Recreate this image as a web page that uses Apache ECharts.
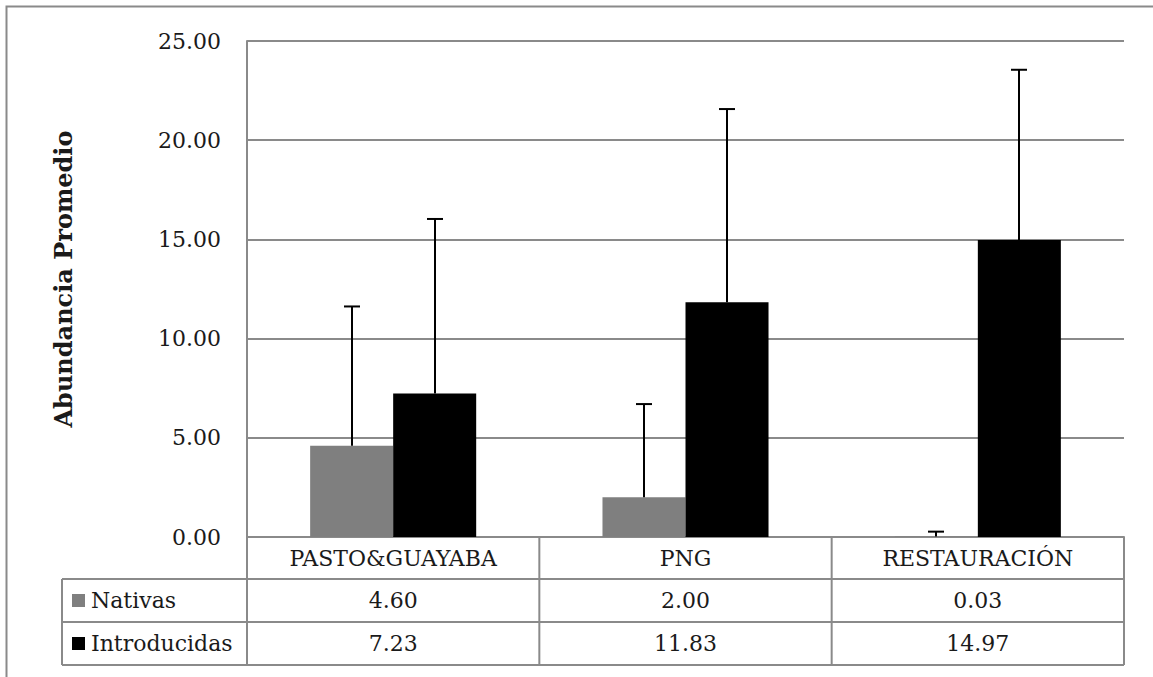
<!DOCTYPE html>
<html>
<head>
<meta charset="utf-8">
<script src="https://cdn.jsdelivr.net/npm/echarts@6/dist/echarts.min.js"></script>
<style>
html,body{margin:0;padding:0;background:#fff;}
#chart{width:1153px;height:677px;}
</style>
</head>
<body>
<div id="chart"></div>
<script>
// ---- data ----
const categories = ['PASTO&GUAYABA', 'PNG', 'RESTAURACIÓN'];
const seriesNames = ['Nativas', 'Introducidas'];
const nativas = [4.60, 2.00, 0.03];
const introducidas = [7.23, 11.83, 14.97];
const nativasErr = [7.02, 4.70, 0.24];
const introducidasErr = [8.80, 9.74, 8.58];
const yMin = 0, yMax = 25, yInterval = 5;
const yTitle = 'Abundancia Promedio';

// ---- style ----
const FONT = 'DejaVu Serif';
const GRAY = '#8a8a8a';
const TEXT = '#1a1a1a';
const COLORS = ['#7f7f7f', '#000000'];
const BAR_FRAC = 0.284;

const chart = echarts.init(document.getElementById('chart'), null, {renderer: 'svg'});

function errorSeries(vals, errs, sign) {
  return {
    type: 'custom',
    xAxisIndex: 0, yAxisIndex: 0,
    z: 10,
    encode: {x: 0, y: [1, 2]},
    data: vals.map((v, i) => [i, v, v + errs[i]]),
    renderItem: function (params, api) {
      const base = api.coord([api.value(0), api.value(1)]);
      const top = api.coord([api.value(0), api.value(2)]);
      const band = api.size([1, 0])[0];
      const x = Math.round(base[0] + sign * band * BAR_FRAC / 2);
      return {
        type: 'group',
        children: [
          {type: 'line', shape: {x1: x, y1: base[1], x2: x, y2: top[1]}, style: {stroke: '#000', lineWidth: 2}},
          {type: 'line', shape: {x1: x - 8, y1: top[1], x2: x + 8, y2: top[1]}, style: {stroke: '#000', lineWidth: 2}}
        ]
      };
    }
  };
}

chart.setOption({
  animation: false,
  grid: {left: 247, right: 29, top: 41, bottom: 140, containLabel: false, outerBoundsMode: 'none'},
  xAxis: {type: 'category', data: categories, axisLine: {lineStyle: {color: GRAY, width: 2}},
    axisTick: {show: false},
    axisLabel: {margin: 21, fontFamily: FONT, fontSize: 22, color: TEXT, interval: 0, verticalAlign: 'middle'}},
  yAxis: {
    type: 'value', min: yMin, max: yMax, interval: yInterval,
    axisLine: {show: true, lineStyle: {color: GRAY, width: 2}},
    axisTick: {show: false},
    splitLine: {lineStyle: {color: GRAY, width: 2}},
    axisLabel: {formatter: v => v.toFixed(2), fontFamily: FONT, fontSize: 22, color: TEXT, margin: 26}
  },
  series: [
    {name: seriesNames[0], type: 'bar', data: nativas, barWidth: (BAR_FRAC * 100) + '%', barGap: '0%',
     itemStyle: {color: COLORS[0]}},
    {name: seriesNames[1], type: 'bar', data: introducidas, barWidth: (BAR_FRAC * 100) + '%', barGap: '0%',
     itemStyle: {color: COLORS[1]}},
    errorSeries(nativas, nativasErr, -1),
    errorSeries(introducidas, introducidasErr, 1)
  ]
});

// ---- data table, positioned from the axes ----
const y0 = chart.convertToPixel({yAxisIndex: 0}, 0);
const yTop = chart.convertToPixel({yAxisIndex: 0}, yMax);
const centers = categories.map((c, i) => chart.convertToPixel({xAxisIndex: 0}, i));
const band = centers[1] - centers[0];
const bounds = centers.map(c => c - band / 2);
bounds.push(bounds[bounds.length - 1] + band);
const rowY = [y0, y0 + 42, y0 + 85, y0 + 128];
const tableLeft = 62;
const g = [];
const ln = (x1, y1, x2, y2) => g.push({type: 'line', shape: {x1, y1, x2, y2}, style: {stroke: GRAY, lineWidth: 2}, z: 5});
for (let r = 1; r < rowY.length; r++) ln(tableLeft, rowY[r], bounds[bounds.length - 1], rowY[r]);
ln(tableLeft, rowY[1], tableLeft, rowY[3]);
bounds.forEach(b => ln(b, rowY[0], b, rowY[3]));
[nativas, introducidas].forEach((vals, i) => {
  const cy = (rowY[i + 1] + rowY[i + 2]) / 2;
  g.push({type: 'rect', shape: {x: 72, y: cy - 6.5, width: 13, height: 13}, style: {fill: COLORS[i]}});
  g.push({type: 'text', x: 91, y: cy, style: {text: seriesNames[i], font: '22px "' + FONT + '"', fill: TEXT, align: 'left', verticalAlign: 'middle'}});
  vals.forEach((v, j) => {
    g.push({type: 'text', x: centers[j], y: cy, style: {text: v.toFixed(2), font: '22px "' + FONT + '"', fill: TEXT, align: 'center', verticalAlign: 'middle'}});
  });
});
g.push({type: 'text', x: 63, y: (yTop + y0) / 2 - 10, rotation: Math.PI / 2,
  style: {text: yTitle, font: 'bold 24px "' + FONT + '"', fill: TEXT, align: 'center', verticalAlign: 'middle'}});
g.push({type: 'rect', shape: {x: 6.5, y: 6.5, width: 1300, height: 1000}, style: {fill: 'none', stroke: GRAY, lineWidth: 2}});
chart.setOption({graphic: g});
</script>
</body>
</html>
